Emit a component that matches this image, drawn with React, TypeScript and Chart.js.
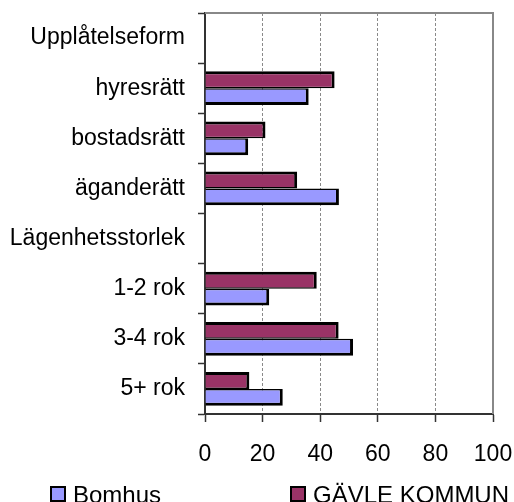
import React, { useEffect, useRef } from "react";
import { Chart, registerables } from "chart.js";

Chart.register(...registerables);

const categories = [
  "Upplåtelseform",
  "hyresrätt",
  "bostadsrätt",
  "äganderätt",
  "Lägenhetsstorlek",
  "1-2 rok",
  "3-4 rok",
  "5+ rok",
];
const seriesNames = ["Bomhus", "GÄVLE KOMMUN"];
const bomhusValues = [null, 36, 15, 46.5, null, 22.3, 51.4, 27];
const gavleValues = [null, 45, 21, 32, null, 38.8, 46.4, 15.4];
const xTickValues = [0, 20, 40, 60, 80, 100];

const FONT = "'Liberation Sans', Arial, sans-serif";
const BOMHUS_COLOR = "#9999FF";
const GAVLE_COLOR = "#993366";

const framePlugin = {
  id: "frame",
  afterDraw(chart: any) {
    const { ctx, chartArea } = chart;
    ctx.save();
    ctx.strokeStyle = "#888888";
    ctx.lineWidth = 2;
    ctx.beginPath();
    ctx.moveTo(chartArea.left, chartArea.top);
    ctx.lineTo(chartArea.right, chartArea.top);
    ctx.lineTo(chartArea.right, chartArea.bottom);
    ctx.stroke();
    ctx.restore();
  },
};

const legendPlugin = {
  id: "customLegend",
  afterDraw(chart: any) {
    const { ctx } = chart;
    const datasets = chart.data.datasets;
    const order = [
      { idx: 1, x: 51 },
      { idx: 0, x: 291 },
    ];
    ctx.save();
    ctx.font = `24px ${FONT}`;
    ctx.textBaseline = "alphabetic";
    ctx.textAlign = "left";
    for (const item of order) {
      const ds = datasets[item.idx];
      ctx.fillStyle = ds.backgroundColor;
      ctx.fillRect(item.x, 487, 14, 14);
      ctx.strokeStyle = "#000";
      ctx.lineWidth = 2;
      ctx.strokeRect(item.x, 487, 14, 14);
      ctx.fillStyle = "#000";
      ctx.fillText(ds.label, item.x + 22, 502.5);
    }
    ctx.restore();
  },
};

export default function App() {
  const canvasRef = useRef<HTMLCanvasElement | null>(null);

  useEffect(() => {
    document.body.style.margin = "0";
    const canvas = canvasRef.current;
    if (!canvas) return;
    const chart = new Chart(canvas, {
      type: "bar",
      data: {
        labels: categories,
        datasets: [
          {
            label: seriesNames[1],
            data: gavleValues,
            backgroundColor: GAVLE_COLOR,
            borderColor: "#000",
            borderWidth: { top: 3, right: 3, bottom: 1.5, left: 0 },
            borderSkipped: "start",
            categoryPercentage: 0.675,
            barPercentage: 1,
          },
          {
            label: seriesNames[0],
            data: bomhusValues,
            backgroundColor: BOMHUS_COLOR,
            borderColor: "#000",
            borderWidth: { top: 1.5, right: 3, bottom: 3, left: 0 },
            borderSkipped: "start",
            categoryPercentage: 0.675,
            barPercentage: 1,
          },
        ],
      } as any,
      options: {
        indexAxis: "y",
        animation: false,
        responsive: false,
        maintainAspectRatio: false,
        layout: { padding: { top: 13, right: 21, left: 0, bottom: 0 } },
        plugins: {
          legend: { display: false },
          tooltip: { enabled: false },
        },
        scales: {
          x: {
            min: 0,
            max: 100,
            afterBuildTicks: (scale: any) => {
              scale.ticks = xTickValues.map((v) => ({ value: v }));
            },
            ticks: {
              color: "#000",
              font: { size: 23, family: FONT },
              padding: 19,
              maxRotation: 0,
            },
            grid: {
              color: (c: any) =>
                c.tick && c.tick.value === 0 ? "rgba(0,0,0,0)" : "#8a8a8a",
              lineWidth: 1,
              tickLength: 8,
              tickColor: "#333",
              tickWidth: 1.5,
              drawTicks: true,
            },
            border: { display: true, color: "#333", width: 2, dash: [3, 2] },
            afterFit: (scale: any) => {
              scale.height = 88;
              scale.paddingLeft = 0;
              scale.paddingRight = 0;
            },
          },
          y: {
            ticks: {
              color: "#000",
              font: { size: 23, family: FONT },
              padding: 13,
            },
            grid: {
              drawOnChartArea: false,
              tickLength: 7,
              color: "#333",
              tickWidth: 1.5,
              offset: true,
            },
            border: { display: true, color: "#333", width: 2 },
            afterFit: (scale: any) => {
              scale.width = 205;
              scale.paddingTop = 0;
              scale.paddingBottom = 0;
            },
          },
        },
      } as any,
      plugins: [framePlugin, legendPlugin],
    });
    return () => chart.destroy();
  }, []);

  return (
    <div style={{ width: 514, height: 502, position: "relative" }}>
      <canvas ref={canvasRef} width={514} height={502} style={{ display: "block" }} />
    </div>
  );
}
